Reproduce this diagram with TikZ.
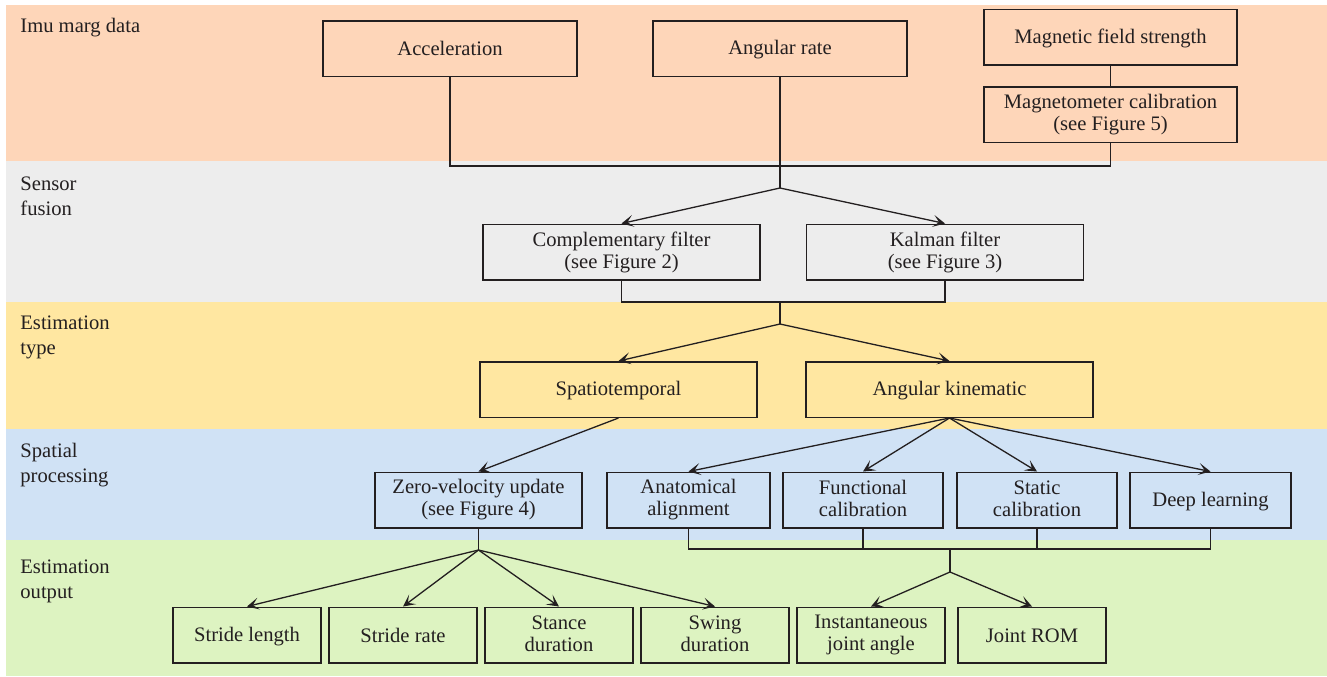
\documentclass[tikz,border=0pt]{standalone}
\usepackage{fontspec}
\setmainfont{Liberation Serif}
\usetikzlibrary{arrows.meta,positioning,calc}
\definecolor{imucolor}{RGB}{254,214,185}
\definecolor{fusioncolor}{RGB}{237,237,237}
\definecolor{typecolor}{RGB}{255,231,161}
\definecolor{spatialcolor}{RGB}{208,226,245}
\definecolor{outputcolor}{RGB}{221,243,193}
\definecolor{inkcolor}{RGB}{35,31,32}
\newcommand{\boxstrut}{\rule[-1.5pt]{0pt}{10pt}}

\begin{document}
\begin{tikzpicture}[x=0.5pt,y=-0.5pt,
    font=\fontsize{10.3}{11}\selectfont,
    box/.style={draw=inkcolor,line width=0.75pt,text=inkcolor,align=center,
        minimum height=27.75pt,inner sep=1pt,minimum width=#1,
        execute at begin node=\boxstrut,execute at end node=\boxstrut},
    box/.default=127pt,
    link/.style={inkcolor,line width=0.65pt},
    arr/.style={link,-{Stealth[length=6pt,width=6pt,inset=3pt]}},
    bandlabel/.style={anchor=north west,align=left,inner sep=0pt,text=inkcolor,
        font=\fontsize{10.3}{12.5}\selectfont}]
    \useasboundingbox (0,0) rectangle (1327,676);

    % Bands
    \fill[imucolor] (6,5) rectangle (1327,161);
    \fill[fusioncolor] (6,161) rectangle (1327,302);
    \fill[typecolor] (6,302) rectangle (1327,429);
    \fill[spatialcolor] (6,429) rectangle (1327,540);
    \fill[outputcolor] (6,540) rectangle (1327,676);

    \node[bandlabel] (lbimu) at (20,18) {Imu marg data};
    \node[bandlabel] (lbfusion) at (20,176) {Sensor\\fusion};
    \node[bandlabel] (lbtype) at (20,315) {Estimation\\type};
    \node[bandlabel] (lbspatial) at (20,443) {Spatial\\processing};
    \node[bandlabel] (lboutput) at (20,559) {Estimation\\output};

    % Imu marg data
    \node[box] (acc) at (450,48.5) {Acceleration};
    \node[box] (angrate) at (780,48.5) {Angular rate};
    \node[box=126.5pt] (magfield) at (1110.5,37) {Magnetic field strength};
    \node[box=126.5pt] (magcal) at (1110.5,114.5) {Magnetometer calibration\\(see Figure 5)};

    % Sensor fusion
    \node[box=138.5pt] (compf) at (621.5,252) {Complementary filter\\(see Figure 2)};
    \node[box=138.5pt] (kalman) at (945,252) {Kalman filter\\(see Figure 3)};

    % Estimation type
    \node[box=138.5pt] (spatio) at (618.5,389.5) {Spatiotemporal};
    \node[box=143.5pt] (angkin) at (949.5,389.5) {Angular kinematic};

    % Spatial processing
    \node[box=103.5pt] (zvu) at (478.5,500) {Zero-velocity update\\(see Figure 4)};
    \node[box=81.5pt] (anat) at (688.5,500) {Anatomical\\alignment};
    \node[box=80pt] (func) at (863,500) {Functional\\calibration};
    \node[box=80pt] (stat) at (1037,500) {Static\\calibration};
    \node[box=80.5pt] (deep) at (1210.5,500) {Deep learning};

    % Estimation output
    \node[box=74pt] (strlen) at (247,635) {Stride length};
    \node[box=74pt] (strrate) at (403,635) {Stride rate};
    \node[box=74pt] (stance) at (559,635) {Stance\\duration};
    \node[box=74pt] (swing) at (715,635) {Swing\\duration};
    \node[box=74pt] (inst) at (871,635) {Instantaneous\\joint angle};
    \node[box=74pt] (rom) at (1032,635) {Joint ROM};

    % Junctions
    \coordinate (jimu) at (780,166);
    \coordinate (jfus) at (780,188);
    \coordinate (jtype) at (780,302);
    \coordinate (jtypeb) at (780,324);
    \coordinate (jzvu) at (478.5,550);
    \coordinate (jang) at (950,549);
    \coordinate (jangb) at (950,572);

    % Connectors
    \draw[link] (magfield) -- (magcal);
    \draw[link] (acc.south) |- (jimu) -| (magcal.south);
    \draw[link] (angrate.south) -- (jfus);
    \draw[arr] (jfus) -- (compf.north);
    \draw[arr] (jfus) -- (kalman.north);

    \draw[link] (compf.south) |- (jtype) -| (kalman.south);
    \draw[link] (jtype) -- (jtypeb);
    \draw[arr] (jtypeb) -- (spatio.north);
    \draw[arr] (jtypeb) -- (angkin.north);

    \draw[arr] (spatio.south) -- (zvu.north);
    \foreach \t in {anat,func,stat,deep}
        \draw[arr] (angkin.south) -- (\t.north);

    \draw[link] (zvu.south) -- (jzvu);
    \foreach \t in {strlen,strrate,stance,swing}
        \draw[arr] (jzvu) -- (\t.north);

    \draw[link] (anat.south) |- (jang) -| (deep.south);
    \draw[link] (func.south) -- (func.south |- jang);
    \draw[link] (stat.south) -- (stat.south |- jang);
    \draw[link] (jang) -- (jangb);
    \draw[arr] (jangb) -- (inst.north);
    \draw[arr] (jangb) -- (rom.north);
\end{tikzpicture}
\end{document}
